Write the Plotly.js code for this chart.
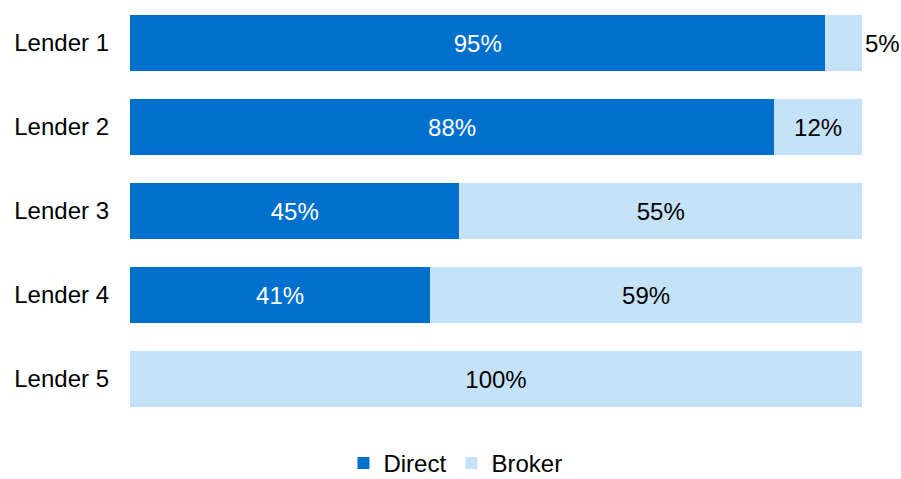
<!DOCTYPE html>
<html>
<head>
<meta charset="utf-8">
<script src="https://cdn.plot.ly/plotly-3.0.1.min.js"></script>
<style>html,body{margin:0;padding:0;background:#fff;overflow:hidden;width:901px;height:479px;}#chart{width:901px;height:486px;}</style>
</head>
<body>
<div id="chart"></div>
<script>
const categories = ["Lender 1", "Lender 2", "Lender 3", "Lender 4", "Lender 5"];
const directValues = [95, 88, 45, 41, 0];
const brokerValues = [5, 12, 55, 59, 100];
const brokerLabelPositions = ["outside", "inside", "inside", "inside", "inside"];

const fmt = v => v > 0 ? v + "%" : "";
const font = "Liberation Sans, Arial, sans-serif";
const fs = 24;

const traces = [
  {
    type: "bar", orientation: "h", name: "Direct",
    y: categories, x: directValues,
    text: directValues.map(fmt), textposition: "inside",
    insidetextanchor: "middle", constraintext: "none", textangle: 0,
    textfont: {family: font, size: fs, color: "#ffffff"},
    marker: {color: "#0070CC"}, hoverinfo: "none"
  },
  {
    type: "bar", orientation: "h", name: "Broker",
    y: categories, x: brokerValues,
    text: brokerValues.map(fmt), textposition: brokerLabelPositions,
    insidetextanchor: "middle", constraintext: "none", textangle: 0,
    cliponaxis: false,
    textfont: {family: font, size: fs, color: "#000000"},
    outsidetextfont: {family: font, size: fs, color: "#000000"},
    marker: {color: "#C5E3F8"}, hoverinfo: "none"
  }
];

const layout = {
  width: 901, height: 486,
  margin: {l: 130, r: 39, t: 1, b: 65},
  paper_bgcolor: "#ffffff", plot_bgcolor: "#ffffff",
  barmode: "stack", bargap: 0.333,
  font: {family: font, size: fs, color: "#000000"},
  xaxis: {range: [0, 100], visible: false, showgrid: false, zeroline: false, fixedrange: true},
  yaxis: {
    autorange: "reversed", showgrid: false, zeroline: false, showline: false,
    ticks: "", ticklabelstandoff: 20,
    tickfont: {family: font, size: fs, color: "#000000"}
  },
  showlegend: true,
  legend: {
    orientation: "h", xref: "container", yref: "container",
    x: 0.5055, xanchor: "center", y: 0, yanchor: "bottom",
    font: {family: font, size: fs, color: "#000000"},
    itemwidth: 30,
    traceorder: "normal"
  }
};

Plotly.newPlot("chart", traces, layout, {staticPlot: true, displayModeBar: false});
</script>
</body>
</html>
